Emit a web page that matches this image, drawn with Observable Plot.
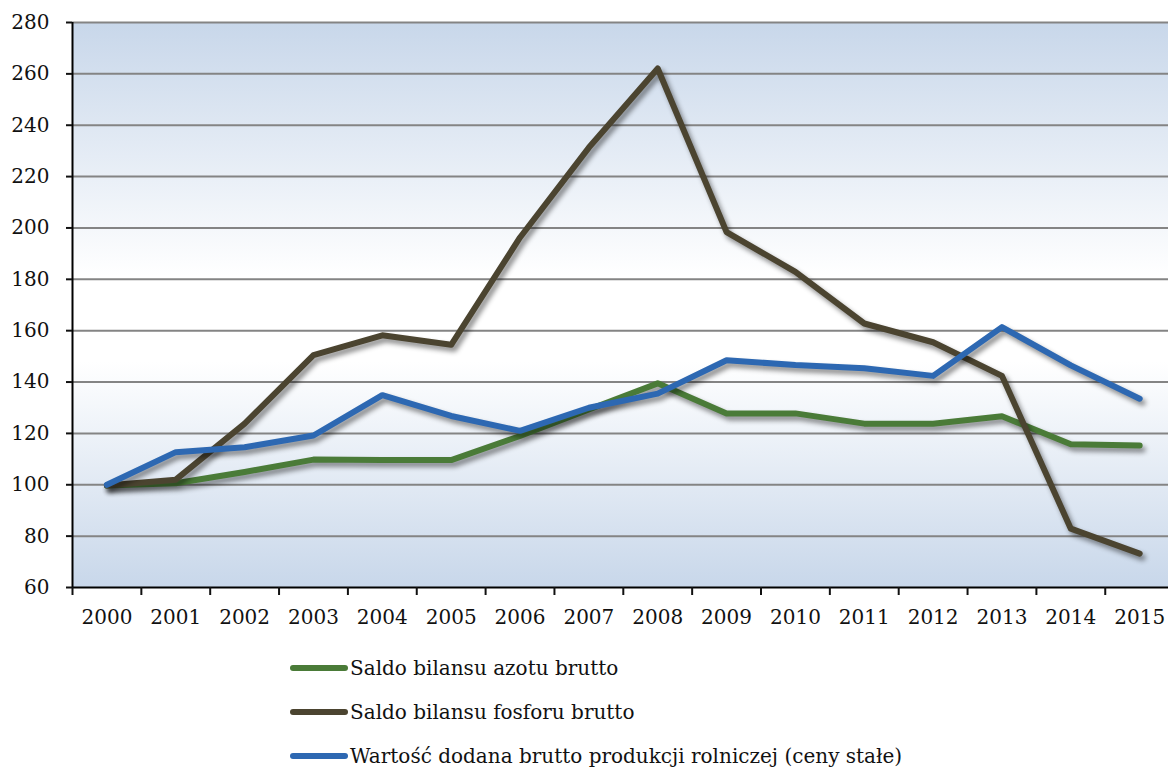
<!DOCTYPE html>
<html><head><meta charset="utf-8">
<script src="https://cdn.jsdelivr.net/npm/d3@7"></script>
<script src="https://cdn.jsdelivr.net/npm/@observablehq/plot@0.6"></script>
<style>
body{margin:0;background:#fff;font-family:"DejaVu Serif",serif;}
#chart svg{display:block;}
g[aria-label="line"] path{filter:drop-shadow(3px 4px 2.5px rgba(0,0,0,0.45));}
.legend{margin-left:290px;padding-top:6px}
.row{display:flex;align-items:center;height:44px;font-size:20px;color:#111;line-height:1}
.sw{width:58px;height:6px;border-radius:3px;margin-right:2px}
</style></head><body><div id="chart"></div><div class="legend" id="legend"></div>
<script>
const years = [2000,2001,2002,2003,2004,2005,2006,2007,2008,2009,2010,2011,2012,2013,2014,2015];
const azot =    [99.7,100.6,105.0,109.8,109.6,109.6,119.0,129.3,139.5,127.8,127.8,123.8,123.8,126.7,115.8,115.3];
const fosfor =  [99.7,102.0,123.8,150.5,158.2,154.5,196.3,231.3,262.1,198.4,182.9,162.8,155.5,142.4,82.9,73.2];
const wartosc = [100,112.7,114.6,119.2,134.9,126.8,121.0,130.0,135.5,148.5,146.6,145.4,142.4,161.4,146.5,133.5];
const seriesNames = ["Saldo bilansu azotu brutto","Saldo bilansu fosforu brutto","Wartość dodana brutto produkcji rolniczej (ceny stałe)"];
const seriesColors = ["#4a7b38","#4b4430","#2d68b2"];
const yTicks = [60,80,100,120,140,160,180,200,220,240,260,280];

const seriesValues = [azot, fosfor, wartosc];
const data = [];
seriesNames.forEach((name, i) => years.forEach((yr, j) => data.push({series: name, year: yr, value: seriesValues[i][j]})));

const svg = Plot.plot({
  width: 1168, height: 640,
  marginTop: 22, marginBottom: 53, marginLeft: 72, marginRight: -5.6,
  style: {fontFamily: "'DejaVu Serif', serif", fontSize: "20px", color: "#111", background: "transparent", overflow: "visible"},
  x: {domain: [1999.5, 2015.5]},
  y: {domain: [60, 280]},
  color: {domain: seriesNames, range: seriesColors},
  marks: [
    Plot.frame({fill: "url(#bgGrad)", stroke: "none"}),
    Plot.ruleY(yTicks.filter(d => d > 60), {stroke: "#848484", strokeWidth: 2}),
    Plot.line(data, {x: "year", y: "value", z: "series", stroke: "series", strokeWidth: 6, strokeLinejoin: "round", strokeLinecap: "round"}),
    Plot.ruleY([60], {stroke: "#000", strokeWidth: 2}),
    Plot.ruleX([1999.5], {stroke: "#000", strokeWidth: 2}),
    Plot.axisY({ticks: yTicks, tickSize: 6, tickPadding: 17, label: null, tickFormat: d => String(d), strokeWidth: 2}),
    Plot.axisX({ticks: years.map(y => y - 0.5).concat([2015.5]), tickSize: 8, tickFormat: () => "", label: null, strokeWidth: 2}),
    Plot.axisX({ticks: years, tickSize: 0, tickPadding: 22, tickFormat: d => String(d), label: null})
  ]
});
const ns = "http://www.w3.org/2000/svg";
const defs = document.createElementNS(ns, "defs");
defs.innerHTML = '<linearGradient id="bgGrad" x1="0" y1="0" x2="0" y2="1">' +
  '<stop offset="0" stop-color="#c8d7ea"/><stop offset="0.45" stop-color="#ffffff"/>' +
  '<stop offset="0.6" stop-color="#ffffff"/><stop offset="1" stop-color="#c8d7ea"/></linearGradient>';
svg.insertBefore(defs, svg.firstChild);
document.getElementById("chart").appendChild(svg);

const legend = document.getElementById("legend");
seriesNames.forEach((name, i) => {
  const row = document.createElement("div");
  row.className = "row";
  const sw = document.createElement("span");
  sw.className = "sw";
  sw.style.background = seriesColors[i];
  const label = document.createElement("span");
  label.textContent = name;
  row.appendChild(sw); row.appendChild(label);
  legend.appendChild(row);
});
</script></body></html>
